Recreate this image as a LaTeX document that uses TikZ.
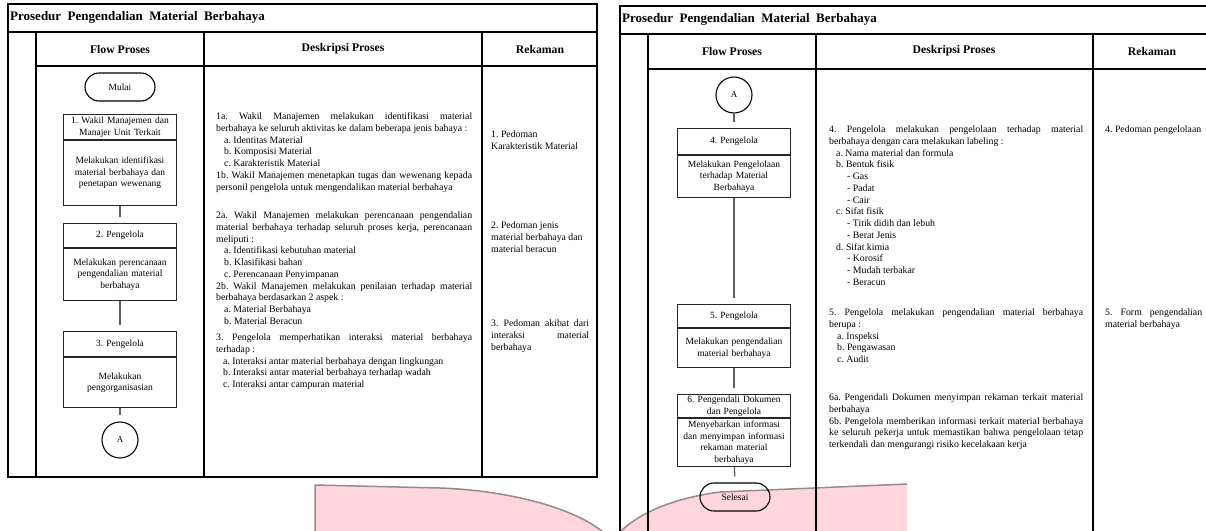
\documentclass[tikz,border=0pt]{standalone}
\usepackage{fontspec}
\setmainfont{Liberation Serif}
\usetikzlibrary{positioning}

\definecolor{wmpink}{RGB}{255,214,219}
\definecolor{wmedge}{RGB}{150,138,140}
\definecolor{linkgray}{RGB}{95,95,95}

\frenchspacing
\hyphenpenalty=10000
\exhyphenpenalty=10000
\setlength{\parindent}{0pt}

\begin{document}
\begin{tikzpicture}[x=1pt,y=-1pt]

\tikzset{flow head/.style={
    draw=black!85, line width=1.1pt,
    minimum width=113pt, minimum height=#1,
    text width=108pt, align=center, inner sep=0pt,
    font=\fontsize{9.5}{11.5}\selectfont
  },
  flow head/.default=25pt,
  flow body/.style={flow head=#1},
  flow end/.style={draw, line width=1.1pt, rounded corners=14pt,
    minimum width=70pt, minimum height=28pt, inner sep=0pt,
    font=\fontsize{9.5}{11.5}\selectfont},
  flow jump/.style={draw, circle, line width=1.1pt, minimum size=#1,
    inner sep=0pt, font=\fontsize{9}{11}\selectfont},
  flow jump/.default=36pt,
  flow link/.style={draw=linkgray, line width=1.4pt, shorten >=6pt},
  table line/.style={line width=1.3pt},
  desc text/.style={anchor=north west, inner sep=0pt, text width=#1,
    align=justify, font=\fontsize{9.8}{11.75}\selectfont},
  desc text/.default=256pt,
  col title/.style={font=\bfseries\fontsize{11.7}{13}\selectfont},
  page title/.style={anchor=west, inner sep=0pt,
    font=\bfseries\fontsize{13}{15}\selectfont}
}

\clip (0,0) rectangle (1206,530);

\fill[wmpink] (315,532) -- (315,485) -- (440,488)
  .. controls (500,490) and (570,505) .. (603,532) -- cycle;
\fill[wmpink] (620,532) .. controls (632,520) and (660,500) .. (720,492)
  -- (907,484) -- (907,532) -- cycle;
\draw[wmedge, line width=1.5pt] (315,532) -- (315,485) -- (440,488)
  .. controls (500,490) and (570,505) .. (603,532);
\draw[wmedge, line width=1.5pt] (620,532) .. controls (632,520) and (660,500) .. (720,492)
  -- (907,484);

\draw[table line] (8,4) rectangle (597,477);
\draw[table line] (8,32) -- (597,32);
\draw[table line] (36,32) -- (36,477);
\draw[table line] (36,66) -- (597,66);
\draw[table line] (204,32) -- (204,477);
\draw[table line] (482,32) -- (482,477);

\draw[table line] (620,540) -- (620,6) -- (1215,6);
\draw[table line] (620,34) -- (1215,34);
\draw[table line] (648,34) -- (648,540);
\draw[table line] (648,69) -- (1215,69);
\draw[table line] (816,34) -- (816,540);
\draw[table line] (1093,34) -- (1093,540);

\node[page title] (title1) at (10,17) {Prosedur~~Pengendalian~~Material~~Berbahaya};
\node[page title] (title2) at (622,19) {Prosedur~~Pengendalian~~Material~~Berbahaya};

\node[col title] (flow1) at (120,49) {Flow Proses};
\node[col title] (desk1) at (343,49) {Deskripsi Proses};
\node[col title] (rek1) at (540,49) {Rekaman};
\node[col title] (flow2) at (732,51) {Flow Proses};
\node[col title] (desk2) at (954,51) {Deskripsi Proses};
\node[col title] (rek2) at (1152,51) {Rekaman};

\node[flow end] (mulai) at (120,87) {Mulai};
\node[flow head, anchor=north] (p1head) at (120,114) {1. Wakil Manajemen dan\\Manajer Unit Terkait};
\node[flow body=65pt, below=0pt of p1head] (p1body) {Melakukan identifikasi\\material berbahaya dan\\penetapan wewenang};
\node[flow head=24pt, anchor=north] (p2head) at (120,223) {2. Pengelola};
\node[flow body=52pt, below=0pt of p2head] (p2body) {Melakukan perencanaan\\pengendalian material\\berbahaya};
\node[flow head=25pt, anchor=north] (p3head) at (120,331) {3. Pengelola};
\node[flow body=50pt, below=0pt of p3head] (p3body) {Melakukan\\pengorganisasian};
\node[flow jump] (outA) at (120,440) {A};

\draw[flow link] (p1body) -- (p2head);
\draw[flow link] (p2body) -- (p3head);
\draw[flow link] (p3body) -- (outA);

\node[flow jump] (inA) at (734,95) {A};
\node[flow head=26pt, anchor=north] (p4head) at (734,128) {4. Pengelola};
\node[flow body=42pt, below=0pt of p4head] (p4body) {Melakukan Pengelolaan\\terhadap Material\\Berbahaya};
\node[flow head=23pt, anchor=north] (p5head) at (734,304) {5. Pengelola};
\node[flow body=39pt, below=0pt of p5head] (p5body) {Melakukan pengendalian\\material berbahaya};
\node[flow head=23pt, anchor=north] (p6head) at (734,394) {6. Pengendali Dokumen\\dan Pengelola};
\node[flow body=48pt, below=0pt of p6head] (p6body) {Menyebarkan informasi\\dan menyimpan informasi\\rekaman material\\berbahaya};
\node[flow end] (selesai) at (735,497) {Selesai};

\draw[flow link] (inA) -- (p4head);
\draw[flow link] (p4body) -- (p5head);
\draw[flow link] (p5body) -- (p6head);
\draw[flow link] (p6body) -- (selesai);

\node[desc text] (d1) at (216,112.5) {1a. Wakil Manajemen melakukan identifikasi material\linebreak
berbahaya ke seluruh aktivitas ke dalam beberapa jenis bahaya :\\
\hspace*{8pt}a. Identitas Material\\
\hspace*{8pt}b. Komposisi Material\\
\hspace*{8pt}c. Karakteristik Material\\
1b. Wakil Manajemen menetapkan tugas dan wewenang kepada\linebreak
personil pengelola untuk mengendalikan material berbahaya};
\node[desc text] (d2) at (216,211.5) {2a. Wakil Manajemen melakukan perencanaan pengendalian\linebreak
material berbahaya terhadap seluruh proses kerja, perencanaan\linebreak
meliputi :\\
\hspace*{8pt}a. Identifikasi kebutuhan material\\
\hspace*{8pt}b. Klasifikasi bahan\\
\hspace*{8pt}c. Perencanaan Penyimpanan\\
2b. Wakil Manajemen melakukan penilaian terhadap material\linebreak
berbahaya berdasarkan 2 aspek :\\
\hspace*{8pt}a. Material Berbahaya\\
\hspace*{8pt}b. Material Beracun};
\node[desc text] (d3) at (216,333.5) {3. Pengelola memperhatikan interaksi material berbahaya\linebreak
terhadap :\\
\hspace*{7pt}a. Interaksi antar material berbahaya dengan lingkungan\\
\hspace*{7pt}b. Interaksi antar material berbahaya terhadap wadah\\
\hspace*{7pt}c. Interaksi antar campuran material};

\node[desc text=98pt] (r1) at (491,130.5) {1. Pedoman\\Karakteristik Material};
\node[desc text=98pt] (r2) at (491,221.5) {2. Pedoman jenis\\material berbahaya dan\\material beracun};
\node[desc text=98pt] (r3) at (491,319.5) {3. Pedoman akibat dari\linebreak
interaksi material\linebreak
berbahaya};

\node[desc text=254pt] (e4) at (829,125.5) {4. Pengelola melakukan pengelolaan terhadap material\linebreak
berbahaya dengan cara melakukan labeling :\\
\hspace*{7pt}a. Nama material dan formula\\
\hspace*{7pt}b. Bentuk fisik\\
\hspace*{18pt}- Gas\\
\hspace*{18pt}- Padat\\
\hspace*{18pt}- Cair\\
\hspace*{7pt}c. Sifat fisik\\
\hspace*{18pt}- Titik didih dan lebuh\\
\hspace*{18pt}- Berat Jenis\\
\hspace*{7pt}d. Sifat kimia\\
\hspace*{18pt}- Korosif\\
\hspace*{18pt}- Mudah terbakar\\
\hspace*{18pt}- Beracun};
\node[desc text=254pt] (e5) at (829,308.5) {5. Pengelola melakukan pengendalian material berbahaya\linebreak
berupa :\\
\hspace*{8pt}a. Inspeksi\\
\hspace*{8pt}b. Pengawasan\\
\hspace*{8pt}c. Audit};
\node[desc text=254pt] (e6) at (829,393.5) {6a. Pengendali Dokumen menyimpan rekaman terkait material\linebreak
berbahaya\\
6b. Pengelola memberikan informasi terkait material berbahaya\linebreak
ke seluruh pekerja untuk memastikan bahwa pengelolaan tetap\linebreak
terkendali dan mengurangi risiko kecelakaan kerja};

\node[desc text=97pt] (f4) at (1105,125.5) {4. Pedoman pengelolaan};
\node[desc text=97pt] (f5) at (1105,308.5) {5. Form pengendalian\linebreak
material berbahaya};

\end{tikzpicture}
\end{document}
